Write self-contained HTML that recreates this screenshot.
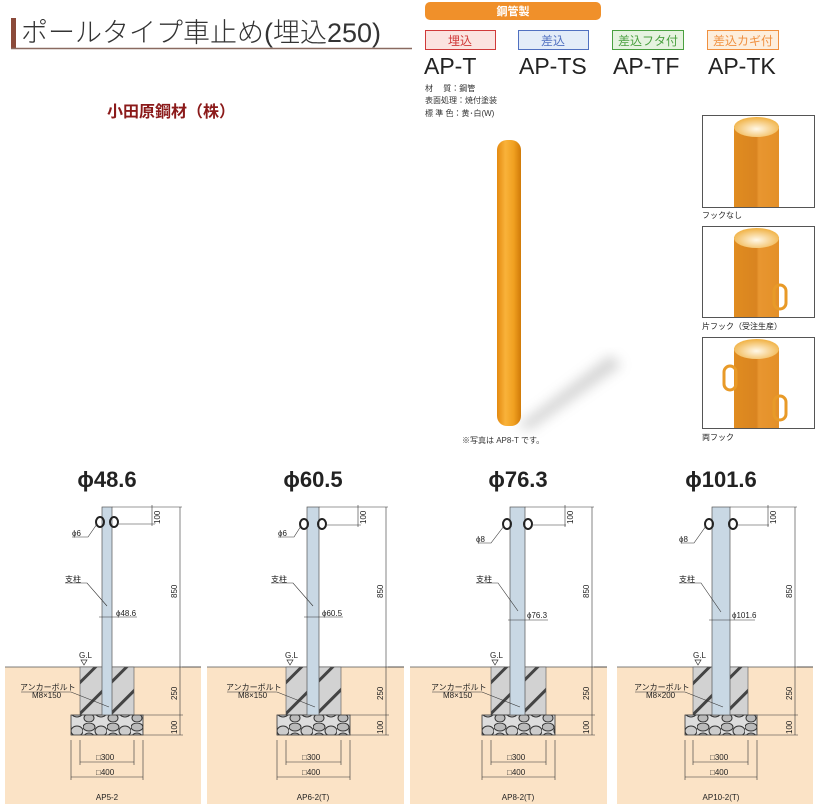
<!DOCTYPE html>
<html><head><meta charset="utf-8"><style>
body{margin:0;background:#fff;width:823px;height:807px;overflow:hidden;font-family:"Liberation Sans","Noto Sans CJK JP",sans-serif}
svg{display:block}
</style></head><body>
<svg width="823" height="807" viewBox="0 0 823 807" xmlns="http://www.w3.org/2000/svg" font-family="Liberation Sans, Noto Sans CJK JP, sans-serif">
<defs>
<linearGradient id="og" x1="0" x2="1" y1="0" y2="0">
<stop offset="0" stop-color="#e48a10"/><stop offset="0.35" stop-color="#f9b23a"/><stop offset="0.7" stop-color="#f0a020"/><stop offset="1" stop-color="#d07a08"/></linearGradient>
<linearGradient id="og2" x1="0" x2="1"><stop offset="0" stop-color="#e08c20"/><stop offset="0.5" stop-color="#d98420"/><stop offset="0.55" stop-color="#e89630"/><stop offset="1" stop-color="#e49028"/></linearGradient>
<radialGradient id="cap" cx="0.5" cy="0.6" r="0.6"><stop offset="0" stop-color="#fff8e8"/><stop offset="1" stop-color="#f0b040"/></radialGradient>
<filter id="bl"><feGaussianBlur stdDeviation="6"/></filter>
<pattern id="hatch" width="22" height="22" patternUnits="userSpaceOnUse" patternTransform="rotate(45)"><rect width="22" height="22" fill="#d2d2d2"/><rect width="3" height="22" fill="#444"/></pattern>
<pattern id="grav" width="24" height="19" patternUnits="userSpaceOnUse"><rect width="24" height="19" fill="#ddd"/><ellipse cx="6" cy="5" rx="6" ry="4" fill="#bbb" stroke="#333" stroke-width="1"/><ellipse cx="18" cy="9" rx="6" ry="5" fill="#ccc" stroke="#333" stroke-width="1"/><ellipse cx="6" cy="15" rx="5" ry="4" fill="#bbb" stroke="#333" stroke-width="1"/></pattern>
</defs>

<!-- header -->
<rect x="11" y="18" width="5" height="31" fill="#8b4a3a"/>
<line x1="11" y1="48.5" x2="412" y2="48.5" stroke="#8a6a60" stroke-width="1.5"/>
<text x="21" y="42" font-size="27" fill="#333" font-weight="300">ポールタイプ車止め(埋込250)</text>
<rect x="425" y="2" width="176" height="18" rx="5" fill="#f0902a"/>
<text x="513" y="15" font-size="11" fill="#fff" text-anchor="middle" font-weight="bold">鋼管製</text>
<rect x="425.5" y="30.5" width="70" height="19" fill="#fbe3e0" stroke="#d03a3a"/>
<text x="460" y="45" font-size="12" fill="#d03a3a" text-anchor="middle">埋込</text>
<rect x="518.5" y="30.5" width="70" height="19" fill="#e3ecf8" stroke="#5070c0"/>
<text x="553" y="45" font-size="12" fill="#5070c0" text-anchor="middle">差込</text>
<rect x="612.5" y="30.5" width="71" height="19" fill="#e6f3e0" stroke="#4aa040"/>
<text x="648" y="45" font-size="12" fill="#4aa040" text-anchor="middle">差込フタ付</text>
<rect x="707.5" y="30.5" width="71" height="19" fill="#fdeedd" stroke="#f09040"/>
<text x="743" y="45" font-size="12" fill="#f09040" text-anchor="middle">差込カギ付</text>
<g font-size="23" fill="#222"><text x="424" y="74">AP-T</text><text x="519" y="74">AP-TS</text><text x="613" y="74">AP-TF</text><text x="708" y="74">AP-TK</text></g>
<g font-size="8" fill="#333"><text x="425" y="91">材　 質：鋼管</text><text x="425" y="103">表面処理：焼付塗装</text><text x="425" y="116">標 準 色：黄･白(W)</text></g>
<text x="107" y="117" font-size="16" fill="#8b1a1a" font-weight="bold">小田原鋼材（株）</text>

<!-- pole photo -->
<path d="M517 426 L610 355 L622 365 L530 430 Z" fill="#888" opacity="0.35" filter="url(#bl)"/>
<rect x="497" y="140" width="24" height="286" rx="10" fill="url(#og)"/>
<text x="462" y="443" font-size="8" fill="#333">※写真は AP8-T です。</text>

<!-- thumbnails -->
<g>
<rect x="702.5" y="115.5" width="112" height="92" fill="#fff" stroke="#555"/>
<rect x="734" y="126" width="45" height="81" fill="url(#og2)"/>
<ellipse cx="756.5" cy="127" rx="22.5" ry="10" fill="url(#cap)"/>
<text x="702" y="218" font-size="8" fill="#222">フックなし</text>
<rect x="702.5" y="226.5" width="112" height="91" fill="#fff" stroke="#555"/>
<rect x="734" y="237" width="45" height="80" fill="url(#og2)"/>
<ellipse cx="756.5" cy="238" rx="22.5" ry="10" fill="url(#cap)"/>
<rect x="774" y="285" width="12" height="24" rx="6" fill="none" stroke="#e89a28" stroke-width="3"/>
<text x="702" y="329" font-size="8" fill="#222">片フック（受注生産）</text>
<rect x="702.5" y="337.5" width="112" height="91" fill="#fff" stroke="#555"/>
<rect x="734" y="348" width="45" height="80" fill="url(#og2)"/>
<ellipse cx="756.5" cy="349" rx="22.5" ry="10" fill="url(#cap)"/>
<rect x="724" y="366" width="12" height="24" rx="6" fill="none" stroke="#e89a28" stroke-width="3"/>
<rect x="774" y="396" width="12" height="24" rx="6" fill="none" stroke="#e89a28" stroke-width="3"/>
<text x="702" y="440" font-size="8" fill="#222">両フック</text>
</g>

<!-- panels -->
<g transform="translate(107,0)">
<rect x="-102" y="667" width="196" height="137" fill="#fbe3c6"/>
<line x1="-102" y1="667" x2="94" y2="667" stroke="#555" stroke-width="0.8"/>
<text x="0" y="487" font-size="22" font-weight="bold" fill="#222" text-anchor="middle">ϕ48.6</text>
<rect x="-27" y="667" width="54" height="48" fill="url(#hatch)" stroke="#555" stroke-width="0.6"/>
<rect x="-36" y="715" width="72" height="20" fill="url(#grav)" stroke="#333" stroke-width="0.8"/>
<rect x="-5" y="507" width="10" height="208" fill="#c9d8e4" stroke="#555" stroke-width="0.7"/>
<ellipse cx="-7" cy="522" rx="4" ry="5" fill="none" stroke="#222" stroke-width="2"/><ellipse cx="7" cy="522" rx="4" ry="5" fill="none" stroke="#222" stroke-width="2"/>
<g stroke="#333" stroke-width="0.6" fill="none">
<line x1="5" y1="507" x2="75" y2="507"/><line x1="12" y1="524" x2="48" y2="524"/><line x1="45" y1="505" x2="45" y2="526"/>
<line x1="73" y1="507" x2="73" y2="735"/><line x1="94" y1="667" x2="75" y2="667"/><line x1="36" y1="715" x2="76" y2="715"/><line x1="36" y1="735" x2="76" y2="735"/>
<polyline points="-35,537 -19,537 -10,524"/><polyline points="-42,583 -20,583 0,606"/><line x1="-8" y1="617" x2="30" y2="617"/>
<polyline points="-86,692 -36,692 2,707"/>
<line x1="-36" y1="740" x2="-36" y2="780"/><line x1="36" y1="740" x2="36" y2="780"/><line x1="-27" y1="740" x2="-27" y2="765"/><line x1="27" y1="740" x2="27" y2="765"/>
<line x1="-27" y1="762" x2="27" y2="762"/><line x1="-36" y1="777" x2="36" y2="777"/>
</g>
<path d="M-26 660 L-20 660 L-23 665 Z" fill="none" stroke="#333" stroke-width="0.7"/>
<g font-size="8" fill="#222">
<text x="-35" y="536">ϕ6</text><text x="-42" y="582">支柱</text><text x="9" y="616">ϕ48.6</text>
<text x="-28" y="658">G.L</text><text x="-87" y="690">アンカーボルト</text><text x="-75" y="698">M8×150</text>
<text x="-11" y="760">□300</text><text x="-11" y="775">□400</text><text x="0" y="800" text-anchor="middle">AP5-2</text>
<text transform="translate(53,524) rotate(-90)">100</text><text transform="translate(70,598) rotate(-90)">850</text>
<text transform="translate(70,700) rotate(-90)">250</text><text transform="translate(70,734) rotate(-90)">100</text>
</g>
</g>

<g transform="translate(313,0)">
<rect x="-106" y="667" width="197" height="137" fill="#fbe3c6"/>
<line x1="-106" y1="667" x2="91" y2="667" stroke="#555" stroke-width="0.8"/>
<text x="0" y="487" font-size="22" font-weight="bold" fill="#222" text-anchor="middle">ϕ60.5</text>
<rect x="-27" y="667" width="55" height="48" fill="url(#hatch)" stroke="#555" stroke-width="0.6"/>
<rect x="-36" y="715" width="73" height="20" fill="url(#grav)" stroke="#333" stroke-width="0.8"/>
<rect x="-6" y="507" width="12" height="208" fill="#c9d8e4" stroke="#555" stroke-width="0.7"/>
<ellipse cx="-9" cy="524" rx="4" ry="5" fill="none" stroke="#222" stroke-width="2"/><ellipse cx="9" cy="524" rx="4" ry="5" fill="none" stroke="#222" stroke-width="2"/>
<g stroke="#333" stroke-width="0.6" fill="none">
<line x1="6" y1="507" x2="75" y2="507"/><line x1="14" y1="525" x2="48" y2="525"/><line x1="45" y1="505" x2="45" y2="527"/>
<line x1="73" y1="507" x2="73" y2="735"/><line x1="91" y1="667" x2="75" y2="667"/><line x1="37" y1="715" x2="76" y2="715"/><line x1="37" y1="735" x2="76" y2="735"/>
<polyline points="-35,537 -19,537 -12,526"/><polyline points="-42,583 -20,583 0,606"/><line x1="-9" y1="617" x2="30" y2="617"/>
<polyline points="-86,692 -36,692 2,707"/>
<line x1="-36" y1="740" x2="-36" y2="780"/><line x1="37" y1="740" x2="37" y2="780"/><line x1="-27" y1="740" x2="-27" y2="765"/><line x1="28" y1="740" x2="28" y2="765"/>
<line x1="-27" y1="762" x2="28" y2="762"/><line x1="-36" y1="777" x2="37" y2="777"/>
</g>
<path d="M-26 660 L-20 660 L-23 665 Z" fill="none" stroke="#333" stroke-width="0.7"/>
<g font-size="8" fill="#222">
<text x="-35" y="536">ϕ6</text><text x="-42" y="582">支柱</text><text x="9" y="616">ϕ60.5</text>
<text x="-28" y="658">G.L</text><text x="-87" y="690">アンカーボルト</text><text x="-75" y="698">M8×150</text>
<text x="-11" y="760">□300</text><text x="-11" y="775">□400</text><text x="0" y="800" text-anchor="middle">AP6-2(T)</text>
<text transform="translate(53,524) rotate(-90)">100</text><text transform="translate(70,598) rotate(-90)">850</text>
<text transform="translate(70,700) rotate(-90)">250</text><text transform="translate(70,734) rotate(-90)">100</text>
</g>
</g>

<g transform="translate(518,0)">
<rect x="-108" y="667" width="197" height="137" fill="#fbe3c6"/>
<line x1="-108" y1="667" x2="89" y2="667" stroke="#555" stroke-width="0.8"/>
<text x="0" y="487" font-size="22" font-weight="bold" fill="#222" text-anchor="middle">ϕ76.3</text>
<rect x="-27" y="667" width="55" height="48" fill="url(#hatch)" stroke="#555" stroke-width="0.6"/>
<rect x="-36" y="715" width="73" height="20" fill="url(#grav)" stroke="#333" stroke-width="0.8"/>
<rect x="-8" y="507" width="15" height="208" fill="#c9d8e4" stroke="#555" stroke-width="0.7"/>
<ellipse cx="-11" cy="524" rx="4" ry="5" fill="none" stroke="#222" stroke-width="2"/><ellipse cx="10" cy="524" rx="4" ry="5" fill="none" stroke="#222" stroke-width="2"/>
<g stroke="#333" stroke-width="0.6" fill="none">
<line x1="7" y1="507" x2="76" y2="507"/><line x1="15" y1="525" x2="48" y2="525"/><line x1="47" y1="505" x2="47" y2="527"/>
<line x1="74" y1="507" x2="74" y2="735"/><line x1="89" y1="667" x2="76" y2="667"/><line x1="37" y1="715" x2="77" y2="715"/><line x1="37" y1="735" x2="77" y2="735"/>
<polyline points="-40,543 -27,543 -14,526"/><polyline points="-42,583 -20,583 0,611"/><line x1="-10" y1="620" x2="30" y2="620"/>
<polyline points="-86,692 -36,692 2,707"/>
<line x1="-36" y1="740" x2="-36" y2="780"/><line x1="37" y1="740" x2="37" y2="780"/><line x1="-27" y1="740" x2="-27" y2="765"/><line x1="28" y1="740" x2="28" y2="765"/>
<line x1="-27" y1="762" x2="28" y2="762"/><line x1="-36" y1="777" x2="37" y2="777"/>
</g>
<path d="M-26 660 L-20 660 L-23 665 Z" fill="none" stroke="#333" stroke-width="0.7"/>
<g font-size="8" fill="#222">
<text x="-42" y="542">ϕ8</text><text x="-42" y="582">支柱</text><text x="9" y="618">ϕ76.3</text>
<text x="-28" y="658">G.L</text><text x="-87" y="690">アンカーボルト</text><text x="-75" y="698">M8×150</text>
<text x="-11" y="760">□300</text><text x="-11" y="775">□400</text><text x="0" y="800" text-anchor="middle">AP8-2(T)</text>
<text transform="translate(55,524) rotate(-90)">100</text><text transform="translate(71,598) rotate(-90)">850</text>
<text transform="translate(71,700) rotate(-90)">250</text><text transform="translate(71,734) rotate(-90)">100</text>
</g>
</g>

<g transform="translate(721,0)">
<rect x="-104" y="667" width="196" height="137" fill="#fbe3c6"/>
<line x1="-104" y1="667" x2="92" y2="667" stroke="#555" stroke-width="0.8"/>
<text x="0" y="487" font-size="22" font-weight="bold" fill="#222" text-anchor="middle">ϕ101.6</text>
<rect x="-28" y="667" width="55" height="48" fill="url(#hatch)" stroke="#555" stroke-width="0.6"/>
<rect x="-36" y="715" width="72" height="20" fill="url(#grav)" stroke="#333" stroke-width="0.8"/>
<rect x="-9" y="507" width="18" height="208" fill="#c9d8e4" stroke="#555" stroke-width="0.7"/>
<ellipse cx="-12" cy="524" rx="4" ry="5" fill="none" stroke="#222" stroke-width="2"/><ellipse cx="12" cy="524" rx="4" ry="5" fill="none" stroke="#222" stroke-width="2"/>
<g stroke="#333" stroke-width="0.6" fill="none">
<line x1="9" y1="507" x2="76" y2="507"/><line x1="17" y1="525" x2="48" y2="525"/><line x1="47" y1="505" x2="47" y2="527"/>
<line x1="74" y1="507" x2="74" y2="735"/><line x1="92" y1="667" x2="76" y2="667"/><line x1="36" y1="715" x2="77" y2="715"/><line x1="36" y1="735" x2="77" y2="735"/>
<polyline points="-40,543 -27,543 -15,526"/><polyline points="-42,583 -20,583 0,612"/><line x1="-12" y1="620" x2="34" y2="620"/>
<polyline points="-86,692 -36,692 2,707"/>
<line x1="-36" y1="740" x2="-36" y2="780"/><line x1="36" y1="740" x2="36" y2="780"/><line x1="-28" y1="740" x2="-28" y2="765"/><line x1="27" y1="740" x2="27" y2="765"/>
<line x1="-28" y1="762" x2="27" y2="762"/><line x1="-36" y1="777" x2="36" y2="777"/>
</g>
<path d="M-26 660 L-20 660 L-23 665 Z" fill="none" stroke="#333" stroke-width="0.7"/>
<g font-size="8" fill="#222">
<text x="-42" y="542">ϕ8</text><text x="-42" y="582">支柱</text><text x="11" y="618">ϕ101.6</text>
<text x="-28" y="658">G.L</text><text x="-87" y="690">アンカーボルト</text><text x="-75" y="698">M8×200</text>
<text x="-11" y="760">□300</text><text x="-11" y="775">□400</text><text x="0" y="800" text-anchor="middle">AP10-2(T)</text>
<text transform="translate(55,524) rotate(-90)">100</text><text transform="translate(71,598) rotate(-90)">850</text>
<text transform="translate(71,700) rotate(-90)">250</text><text transform="translate(71,734) rotate(-90)">100</text>
</g>
</g>
</svg>
</body></html>
